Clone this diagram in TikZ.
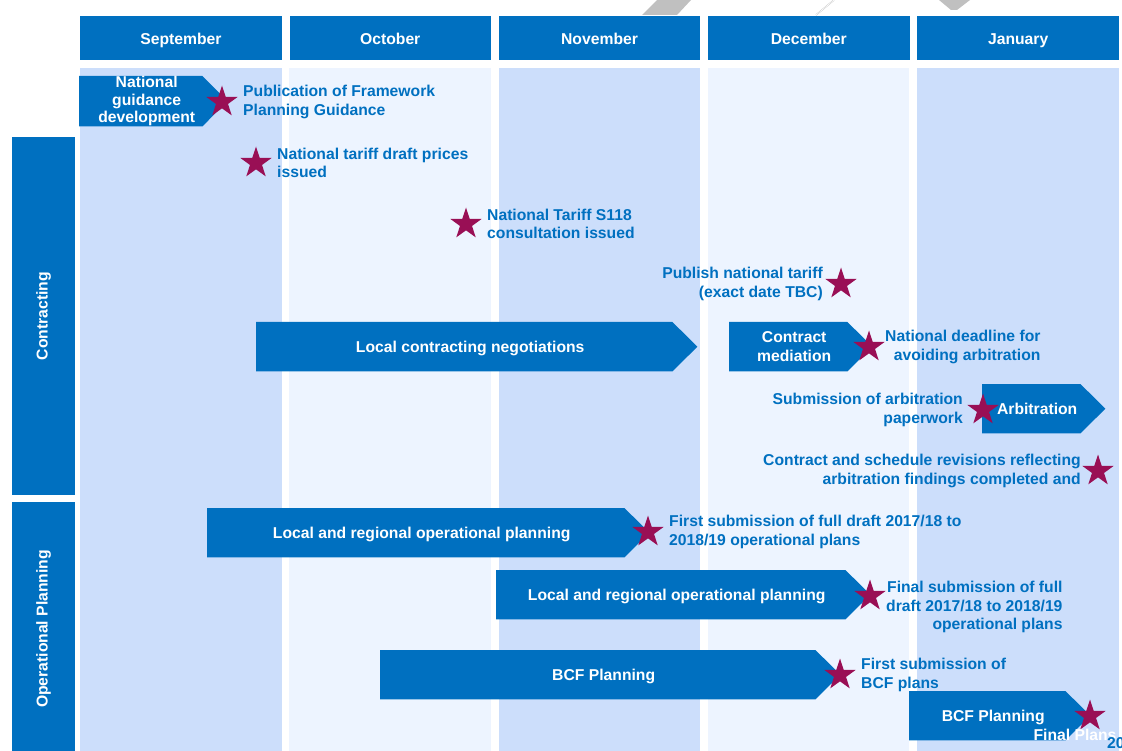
\documentclass[tikz,border=0pt]{standalone}
\usepackage{fontspec}
\setmainfont{Liberation Sans}
\usetikzlibrary{shapes.geometric,positioning,backgrounds}

\definecolor{nhsblue}{RGB}{0,112,192}
\definecolor{monthdark}{RGB}{204,222,251}
\definecolor{monthlight}{RGB}{237,244,255}
\definecolor{milestone}{RGB}{153,15,85}
\definecolor{smudge}{RGB}{192,192,192}

\tikzset{
  boldtext/.style = {font=\fontsize{15.7}{18.5}\selectfont\bfseries},
  oneline/.style = {text height=12pt, text depth=0pt},
  month/.style = {boldtext, oneline, fill=nhsblue, text=white, inner sep=0pt,
    minimum width=201.5pt, minimum height=44pt, anchor=north west},
  stream/.style = {boldtext, fill=nhsblue, text=white, inner sep=0pt,
    rotate=90, minimum height=63pt},
  phase/.style = {boldtext, text=white, align=center,
    inner sep=0pt, minimum height=49pt, anchor=north west},
  milestar/.style = {shape=star, star points=5, star point ratio=2.6,
    minimum size=33pt, inner sep=0pt, fill=milestone},
  note/.style = {boldtext, text=nhsblue, inner sep=0pt}
}

\begin{document}
\begin{tikzpicture}[x=1pt, y=-1pt]
  \useasboundingbox (0,0) rectangle (1122,751);

  % stray marks at the top edge
  \fill[smudge] (642,15) -- (677,15) -- (691,0) -- (657,0) -- cycle;
  \draw[smudge, double] (816,15) -- (834,0);
  \fill[smudge] (939,0) -- (970,0) -- (957,10) -- (951,10) -- cycle;

  % month columns
  \foreach \m/\c [count=\i from 0] in {September/monthdark, October/monthlight,
      November/monthdark, December/monthlight, January/monthdark} {
    \node[month] (m\i) at (80+209.3*\i,16) {\m};
    \begin{scope}[on background layer]
      \fill[\c] (80+209.3*\i,68) rectangle ++(201.5,683);
    \end{scope}
  }

  % work streams
  \node[stream, minimum width=358pt] (contracting) at (43.5,316) {Contracting};
  \node[stream, minimum width=254pt] (operational) at (43.5,629) {Operational Planning};

  % phases (arrow body is drawn behind the text)
  \node[phase, minimum width=135pt, minimum height=50pt,
    font=\fontsize{15.7}{17.5}\selectfont\bfseries] (guidance) at (79,76)
    {National\\guidance\\development};
  \node[phase, oneline, minimum width=428pt] (negotiation) at (256,322) {Local contracting negotiations};
  \node[phase, minimum width=130pt] (mediation) at (729,322) {Contract\\mediation};
  \node[phase, oneline, minimum width=110pt] (arbitration) at (982,384) {Arbitration};
  \node[phase, oneline, minimum width=429pt] (opdraft) at (207,508) {Local and regional operational planning};
  \node[phase, oneline, minimum width=361pt] (opfinal) at (496,570) {Local and regional operational planning};
  \node[phase, oneline, minimum width=447pt] (bcfdraft) at (380,650) {BCF Planning};
  \node[phase, oneline, minimum width=168pt] (bcffinal) at (909,691) {BCF Planning};
  \begin{scope}[on background layer]
    \foreach \p in {guidance, negotiation, mediation, arbitration,
        opdraft, opfinal, bcfdraft, bcffinal}
      \fill[nhsblue] (\p.north west) -- ([xshift=-12pt]\p.north east)
        -- ([xshift=13pt]\p.east) -- ([xshift=-12pt]\p.south east)
        -- (\p.south west) -- cycle;
  \end{scope}

  % milestones
  \node[milestar] (s1) at (222,102) {};
  \node[milestar] (s2) at (256,163) {};
  \node[milestar] (s3) at (466,224) {};
  \node[milestar] (s4) at (841,284) {};
  \node[milestar] (s5) at (869,347) {};
  \node[milestar] (s6) at (983,410) {};
  \node[milestar] (s7) at (1098,471) {};
  \node[milestar] (s8) at (648,532) {};
  \node[milestar] (s9) at (870,596) {};
  \node[milestar] (s10) at (840,675) {};
  \node[milestar] (s11) at (1090,716) {};

  \node[note, align=left, right=21pt of s1.center] (publication)
    {Publication of Framework\\Planning Guidance};
  \node[note, align=left, right=21pt of s2.center] (draftprices)
    {National tariff draft prices\\issued};
  \node[note, align=left, right=21pt of s3.center] (consultation)
    {National Tariff S118\\consultation issued};
  \node[note, align=right, left=18pt of s4.center] (publish)
    {Publish national tariff\\(exact date TBC)};
  \node[note, align=right, right=16pt of s5.center] (deadline)
    {National deadline for\\avoiding arbitration};
  \node[note, align=right, left=20pt of s6.center] (paperwork)
    {Submission of arbitration\\paperwork};
  \node[note, align=right, left=17pt of s7.center] (revisions)
    {Contract and schedule revisions reflecting\\arbitration findings completed and};
  \node[note, align=left, right=21pt of s8.center] (firstdraft)
    {First submission of full draft 2017/18 to\\2018/19 operational plans};
  \node[note, align=right, below right=-15pt and 16pt of s9.center] (finaldraft)
    {Final submission of full\\draft 2017/18 to 2018/19\\operational plans};
  \node[note, align=left, right=21pt of s10.center] (bcfplans)
    {First submission of\\BCF plans};
  \node[note, text=white] (finalplans) at (1075,735) {Final Plans};
  \node[note, anchor=north west] (pagenum) at (1107,737) {20};
\end{tikzpicture}
\end{document}
